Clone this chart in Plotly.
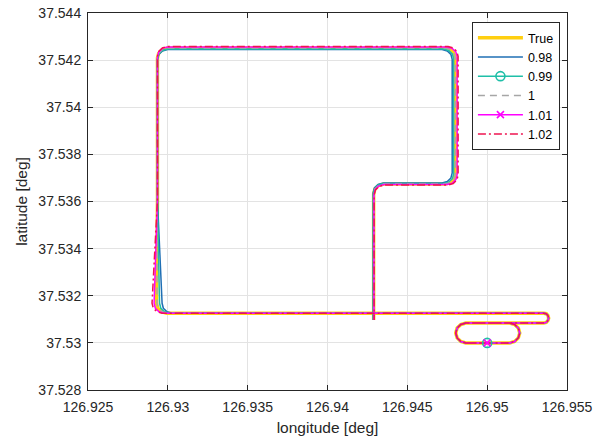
import plotly.graph_objects as go

# ---- common start: small loop and eastern U-turn (all series overlap here)
LOOP_LON = [126.95000, 126.94866, 126.94835, 126.94812, 126.94803, 126.94812, 126.94835, 126.94866,
            126.95141, 126.95172, 126.95195, 126.95204, 126.95195, 126.95172, 126.95141,
            126.94866, 126.94835, 126.94812, 126.94803, 126.94812, 126.94835, 126.94866,
            126.95354, 126.95370, 126.95381, 126.95385, 126.95381, 126.95370, 126.95354]
LOOP_LAT = [37.53000, 37.53000, 37.53006, 37.53021, 37.53042, 37.53063, 37.53078, 37.53084,
            37.53084, 37.53078, 37.53063, 37.53042, 37.53021, 37.53006, 37.53000,
            37.53000, 37.53006, 37.53021, 37.53042, 37.53063, 37.53078, 37.53084,
            37.53084, 37.53087, 37.53095, 37.53105, 37.53116, 37.53124, 37.53126]

# ---- rest of the route per series
TRUE_LON = [126.92992, 126.92960, 126.92937, 126.92929, 126.92935,
            126.92935, 126.92943, 126.92966, 126.92998,
            126.94737, 126.94769, 126.94792, 126.94800,
            126.94800, 126.94792, 126.94769, 126.94737,
            126.94352, 126.94320, 126.94297, 126.94289, 126.94289]
TRUE_LAT = [37.53126, 37.53132, 37.53147, 37.53168, 37.53606,
            37.54209, 37.54230, 37.54245, 37.54251,
            37.54251, 37.54245, 37.54230, 37.54209,
            37.53716, 37.53695, 37.53680, 37.53674,
            37.53674, 37.53668, 37.53653, 37.53632, 37.53097]

S098_LON = [126.93027, 126.92995, 126.92972, 126.92964, 126.92935,
            126.92935, 126.92943, 126.92966, 126.92998,
            126.94718, 126.94750, 126.94773, 126.94781,
            126.94781, 126.94773, 126.94750, 126.94718,
            126.94349, 126.94317, 126.94294, 126.94286, 126.94286]
S098_LAT = [37.53126, 37.53132, 37.53147, 37.53168, 37.53606,
            37.54203, 37.54224, 37.54239, 37.54245,
            37.54245, 37.54239, 37.54224, 37.54203,
            37.53721, 37.53700, 37.53685, 37.53679,
            37.53679, 37.53673, 37.53658, 37.53637, 37.53097]

S099_LON = [126.93011, 126.92979, 126.92956, 126.92948, 126.92935,
            126.92935, 126.92943, 126.92966, 126.92998,
            126.94727, 126.94759, 126.94782, 126.94790,
            126.94790, 126.94782, 126.94759, 126.94727,
            126.94351, 126.94319, 126.94296, 126.94288, 126.94288]
S099_LAT = [37.53126, 37.53132, 37.53147, 37.53168, 37.53606,
            37.54205, 37.54226, 37.54241, 37.54247,
            37.54247, 37.54241, 37.54226, 37.54205,
            37.53718, 37.53697, 37.53682, 37.53676,
            37.53676, 37.53670, 37.53655, 37.53634, 37.53097]

S100_LON = [126.92995, 126.92963, 126.92940, 126.92932, 126.92935,
            126.92935, 126.92943, 126.92966, 126.92998,
            126.94737, 126.94769, 126.94792, 126.94800,
            126.94800, 126.94792, 126.94769, 126.94737,
            126.94352, 126.94320, 126.94297, 126.94289, 126.94289]
S100_LAT = TRUE_LAT

S101_LON = [126.92977, 126.92945, 126.92922, 126.92914, 126.92935,
            126.92935, 126.92943, 126.92966, 126.92998,
            126.94749, 126.94781, 126.94804, 126.94812,
            126.94812, 126.94804, 126.94781, 126.94749,
            126.94354, 126.94322, 126.94299, 126.94291, 126.94291]
S101_LAT = [37.53126, 37.53132, 37.53147, 37.53168, 37.53606,
            37.54214, 37.54235, 37.54250, 37.54256,
            37.54256, 37.54250, 37.54235, 37.54214,
            37.53714, 37.53693, 37.53678, 37.53672,
            37.53672, 37.53666, 37.53651, 37.53630, 37.53097]

S102_LON = [126.92964, 126.92932, 126.92909, 126.92901, 126.92935,
            126.92935, 126.92943, 126.92966, 126.92998,
            126.94755, 126.94787, 126.94810, 126.94818,
            126.94818, 126.94810, 126.94787, 126.94755,
            126.94355, 126.94323, 126.94300, 126.94292, 126.94292]
S102_LAT = [37.53126, 37.53132, 37.53147, 37.53168, 37.53606,
            37.54216, 37.54237, 37.54252, 37.54258,
            37.54258, 37.54252, 37.54237, 37.54216,
            37.53712, 37.53691, 37.53676, 37.53670,
            37.53670, 37.53664, 37.53649, 37.53628, 37.53097]

SERIES_NAMES = ["True", "0.98", "0.99", "1", "1.01", "1.02"]
X_TICKS = [126.925, 126.93, 126.935, 126.94, 126.945, 126.95, 126.955]
X_TICK_TEXT = ["126.925", "126.93", "126.935", "126.94", "126.945", "126.95", "126.955"]
Y_TICKS = [37.528, 37.53, 37.532, 37.534, 37.536, 37.538, 37.54, 37.542, 37.544]
Y_TICK_TEXT = ["37.528", "37.53", "37.532", "37.534", "37.536", "37.538", "37.54", "37.542", "37.544"]

FONT = "Liberation Sans, Arial, sans-serif"
C_TRUE = "#FFCF10"
C_098 = "#1F6FB4"
C_099 = "#1FBFA8"
C_100 = "#A6A6A6"
C_101 = "#FF00FF"
C_102 = "#EE1450"

fig = go.Figure()

def line_trace(lon, lat, name, color, width, dash="solid", showlegend=True):
    return go.Scatter(x=LOOP_LON + lon, y=LOOP_LAT + lat, mode="lines", name=name,
                      line=dict(color=color, width=width, dash=dash),
                      showlegend=showlegend, hoverinfo="skip")

fig.add_trace(line_trace(TRUE_LON, TRUE_LAT, SERIES_NAMES[0], C_TRUE, 3.5))
fig.add_trace(line_trace(S098_LON, S098_LAT, SERIES_NAMES[1], C_098, 1.5))
# legend entry for 0.99 (line + circle marker)
fig.add_trace(go.Scatter(x=[None], y=[None], mode="lines+markers", name=SERIES_NAMES[2],
                         line=dict(color=C_099, width=1.5),
                         marker=dict(symbol="circle-open", size=9, color=C_099, line=dict(width=1.6))))
fig.add_trace(line_trace(S099_LON, S099_LAT, SERIES_NAMES[2], C_099, 1.5, showlegend=False))
fig.add_trace(line_trace(S100_LON, S100_LAT, SERIES_NAMES[3], C_100, 1.5, dash="7px,5px"))
fig.add_trace(go.Scatter(x=[None], y=[None], mode="lines+markers", name=SERIES_NAMES[4],
                         line=dict(color=C_101, width=1.5),
                         marker=dict(symbol="x-thin-open", size=7, color=C_101, line=dict(width=1.6, color=C_101))))
fig.add_trace(line_trace(S101_LON, S101_LAT, SERIES_NAMES[4], C_101, 1.5, showlegend=False))
fig.add_trace(line_trace(S102_LON, S102_LAT, SERIES_NAMES[5], C_102, 1.5, dash="8px,3px,2px,3px"))

# start-point markers
fig.add_trace(go.Scatter(x=LOOP_LON[:1], y=LOOP_LAT[:1], mode="markers", showlegend=False,
                         marker=dict(symbol="circle-open", size=9, color=C_099, line=dict(width=1.6)),
                         hoverinfo="skip"))
fig.add_trace(go.Scatter(x=LOOP_LON[:1], y=LOOP_LAT[:1], mode="markers", showlegend=False,
                         marker=dict(symbol="x-thin-open", size=7, color=C_101, line=dict(width=1.6, color=C_101)),
                         hoverinfo="skip"))

axis_common = dict(showgrid=True, gridcolor="#E3E3E3", gridwidth=1,
                   showline=True, linecolor="#262626", linewidth=1, mirror="ticks",
                   ticks="inside", ticklen=5, tickcolor="#262626", tickwidth=1,
                   zeroline=False, automargin=False,
                   tickfont=dict(family=FONT, size=14, color="#262626"))

fig.update_layout(
    width=607, height=442,
    margin=dict(l=88, r=40, t=13, b=52),
    paper_bgcolor="white", plot_bgcolor="white",
    font=dict(family=FONT, color="#262626"),
    xaxis=dict(range=[126.925, 126.955], tickvals=X_TICKS, ticktext=X_TICK_TEXT,
               title=dict(text="longitude [deg]", font=dict(family=FONT, size=15.5, color="#262626"), standoff=8),
               ticklabelstandoff=4, **axis_common),
    yaxis=dict(range=[37.528, 37.544], tickvals=Y_TICKS, ticktext=Y_TICK_TEXT,
               title=dict(text="latitude [deg]", font=dict(family=FONT, size=15.5, color="#262626"), standoff=6),
               ticklabelstandoff=3, **axis_common),
    legend=dict(x=0.8015, y=0.976, xanchor="left", yanchor="top",
                bgcolor="white", bordercolor="#262626", borderwidth=1,
                font=dict(family=FONT, size=12.5, color="black"), itemwidth=45,
                tracegroupgap=0),
    showlegend=True,
)

fig.write_html("out.html")
